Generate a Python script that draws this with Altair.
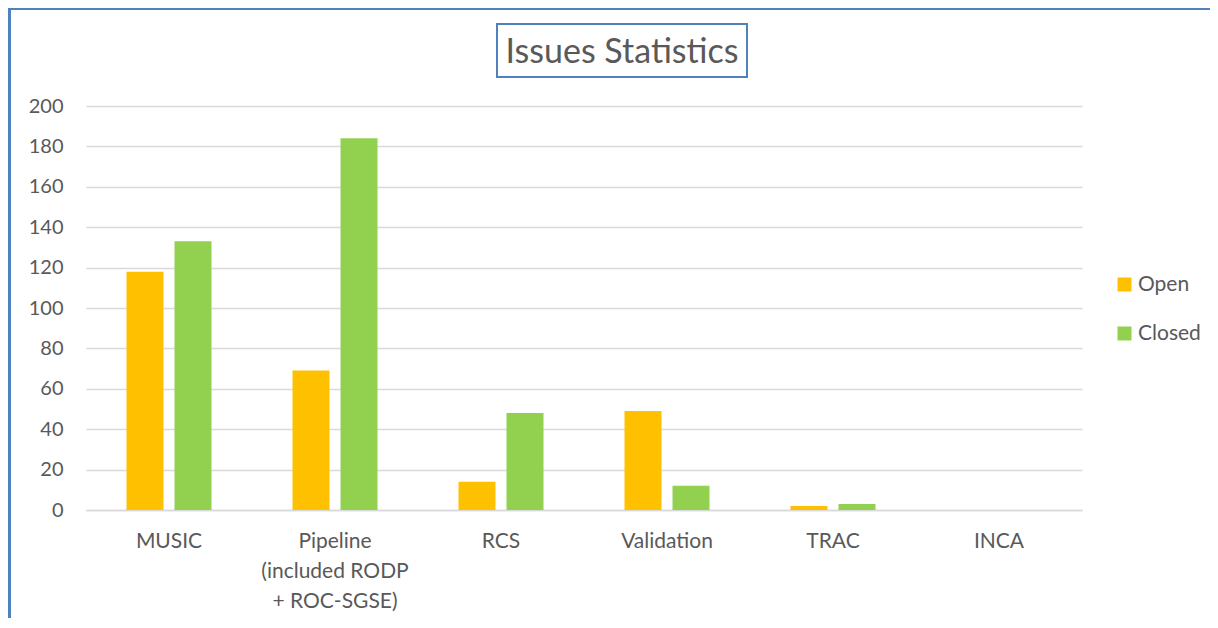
import altair as alt
import pandas as pd

categories = ["MUSIC", "Pipeline\n(included RODP\n+ ROC-SGSE)", "RCS", "Validation", "TRAC", "INCA"]
open_values = [118, 69, 14, 49, 2, 0]
closed_values = [133, 184, 48, 12, 3, 0]
series = ["Open", "Closed"]
colors = ["#FFC000", "#92D050"]
y_ticks = list(range(0, 201, 20))

rows = []
for c, o, cl in zip(categories, open_values, closed_values):
    rows.append({"category": c, "status": "Open", "count": o})
    rows.append({"category": c, "status": "Closed", "count": cl})
df = pd.DataFrame(rows)

FONT = "Lato"
TXT = "#595959"
W, H = 996, 404

bars = alt.Chart(df).mark_bar().encode(
    x=alt.X("category:N", sort=categories, title=None,
            scale=alt.Scale(paddingInner=0.488, paddingOuter=0.244),
            axis=alt.Axis(labelAngle=0, labelFontSize=21, labelColor=TXT, labelFont=FONT,
                          labelExpr="split(datum.label, '\\n')", labelLineHeight=30,
                          labelPadding=20, ticks=False, domain=True, domainColor="#D9D9D9",
                          domainWidth=1.5, labelBaseline="top", grid=False)),
    xOffset=alt.XOffset("status:N", sort=series,
                        scale=alt.Scale(paddingInner=0.23, paddingOuter=0)),
    y=alt.Y("count:Q", title=None,
            scale=alt.Scale(domain=[0, 200], nice=False),
            axis=alt.Axis(values=y_ticks, labelFontSize=20, labelColor=TXT, labelFont=FONT,
                          labelPadding=23, ticks=False, domain=False,
                          gridColor="#D9D9D9", gridWidth=1.5)),
    color=alt.Color("status:N", sort=series,
                    scale=alt.Scale(domain=series, range=colors),
                    legend=alt.Legend(title=None, orient="none", legendX=1028, legendY=168,
                                      symbolType="square", symbolSize=196, symbolStrokeWidth=0,
                                      labelFontSize=21, labelColor=TXT, labelFont=FONT,
                                      labelOffset=3, rowPadding=27, padding=0)),
)

one = pd.DataFrame({"a": [0]})

title_box = alt.Chart(one).mark_rect(fill="white", stroke="#4F81BD", strokeWidth=2).encode(
    x=alt.value(411), x2=alt.value(661), y=alt.value(-82), y2=alt.value(-29))
title_text = alt.Chart(one).mark_text(text="Issues Statistics", fontSize=34, font=FONT,
                                      color=TXT, align="center", baseline="middle").encode(
    x=alt.value(536), y=alt.value(-53))

frame_top = alt.Chart(one).mark_rule(color="#4F81BD", strokeWidth=3).encode(
    x=alt.value(-80), x2=alt.value(1140), y=alt.value(-97.5))
frame_left = alt.Chart(one).mark_rule(color="#4F81BD", strokeWidth=3).encode(
    x=alt.value(-76.5), y=alt.value(-99), y2=alt.value(530))

chart = alt.layer(bars, title_box, title_text, frame_top, frame_left).properties(
    width=W, height=H,
    background="white",
    autosize=alt.AutoSizeParams(type="none"),
    padding={"left": 78, "top": 98, "right": 128, "bottom": 108},
).configure_view(strokeWidth=0, stroke=None)

chart.save("out.html", embed_options={"renderer": "svg", "actions": False})
